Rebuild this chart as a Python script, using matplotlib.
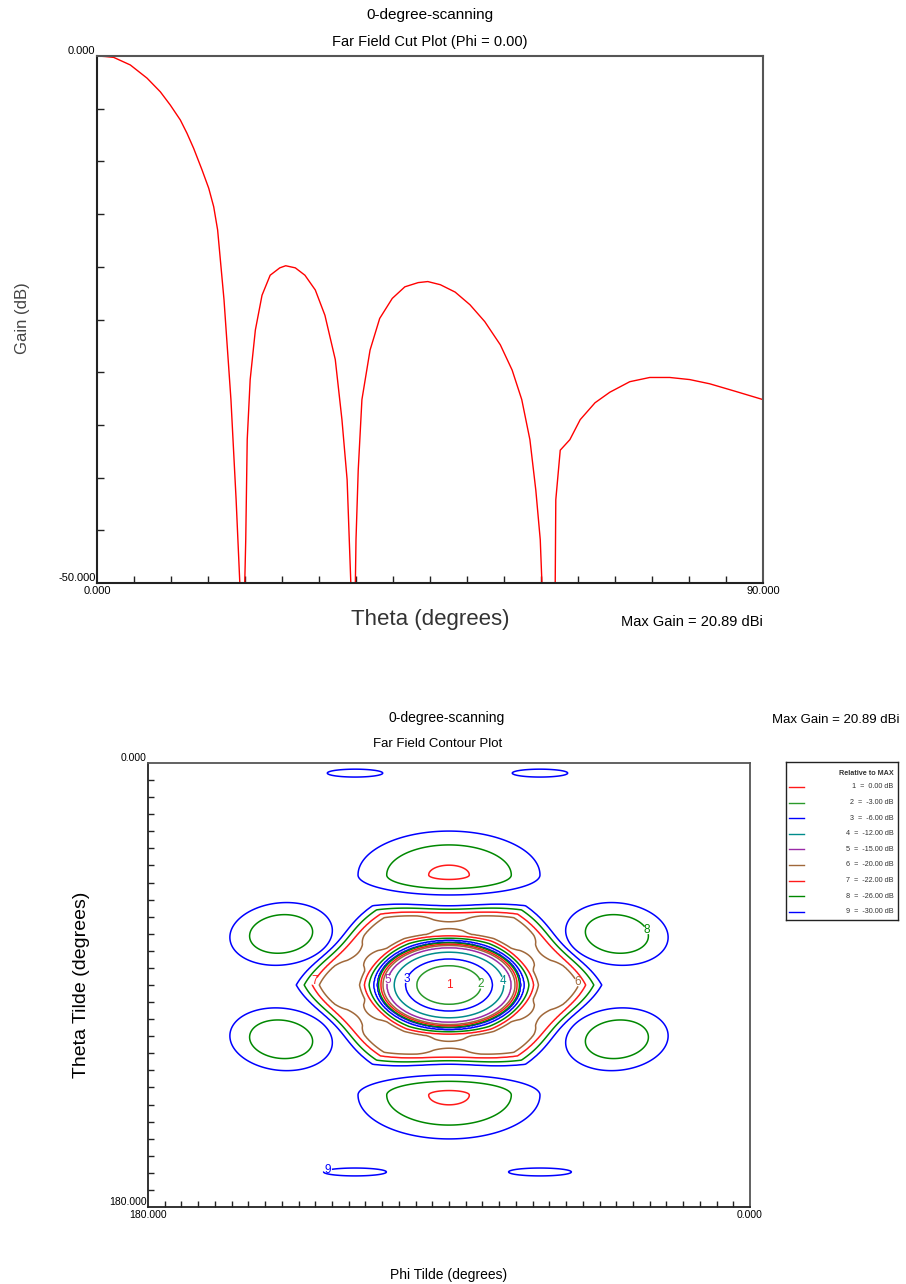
import numpy as np
import matplotlib
matplotlib.use("Agg")
import matplotlib.pyplot as plt

plt.rcParams['font.family'] = ['Liberation Sans', 'DejaVu Sans']
plt.rcParams['contour.negative_linestyle'] = 'solid'

# ---------------- data: far field cut (Phi = 0) ----------------
theta_cut = [0, 1.1, 2.25, 4.5, 6.76, 8.56, 9.9, 11.26, 12.16, 13.06, 14.19, 15.1, 15.77,
             16.3, 17.16, 18.1, 18.8, 19.3, 19.6, 19.9, 20.1, 20.3, 20.7, 21.4, 22.3, 23.4,
             24.7, 25.5, 26.8, 28.1, 29.5, 30.8, 32.2, 33.1, 33.8, 34.3, 34.6, 35.0, 35.3,
             35.8, 36.9, 38.2, 39.9, 41.6, 43.4, 44.7, 46.4, 48.4, 50.4, 52.4, 54.5, 56.1,
             57.4, 58.5, 59.3, 59.9, 60.4, 61.2, 61.9, 62.0, 62.6, 63.9, 65.3, 67.3, 69.3,
             72.0, 74.7, 77.4, 80.1, 82.8, 86.2, 90.0]
gain_cut = [0, -0.05, -0.13, -0.85, -2.1, -3.4, -4.65, -6.07, -7.33, -8.76, -10.8, -12.55,
            -14.3, -16.5, -23.1, -32.6, -42.1, -50.0, -65.0, -52.0, -45.9, -36.4, -30.7,
            -26.0, -22.7, -20.8, -20.1, -19.9, -20.1, -20.8, -22.2, -24.6, -28.8, -34.5,
            -40.2, -50.0, -65.0, -45.9, -39.3, -32.6, -27.9, -24.9, -23.0, -21.9, -21.5,
            -21.4, -21.7, -22.4, -23.6, -25.2, -27.4, -29.8, -32.6, -36.4, -41.2, -45.9,
            -55.0, -65.0, -52.0, -42.1, -37.4, -36.4, -34.5, -32.9, -31.9, -30.9, -30.5,
            -30.5, -30.7, -31.1, -31.8, -32.6]

# ---------------- data: far field contour ----------------
contour_levels = [0.0, -3.0, -6.0, -12.0, -15.0, -20.0, -22.0, -26.0, -30.0]
contour_colors = ['#ff1a1a', '#2a9a2a', '#0000ff', '#008c8c', '#9a2aa8',
                  '#a0683a', '#ff1a1a', '#008800', '#0000ff']

# main beam (centre, elliptical radius scale, radial profile)
main_phi, main_theta = 90.0, 90.0
main_ax, main_ay = 22.4, 18.2
main_rho = [0, 0.15, 0.3, 0.43, 0.58, 0.73, 0.83, 0.88, 0.91, 0.94, 0.96, 0.97, 3.0]
main_db = [0, -0.4, -1.5, -3, -6, -12, -15, -20, -22, -26, -30, -60, -80]

# first side-lobe ring (hexagonal, rounded)
ring_rho_in = 0.97
ring_rho_vertex = 2.04
ring_hex_mix = 0.6
ring_ripple = 0.6
ring_t = [0, 0.012, 0.028, 0.09, 0.15, 0.22, 0.45, 0.70, 0.80, 0.90, 1.0, 1.12, 1.3, 3.0]
ring_db = [-60, -36, -30, -26, -22, -20, -19.0, -20, -22, -26, -30, -38, -50, -60]
ripple_t = [0, 0.12, 0.3, 0.6, 0.78, 3.0]
ripple_w = [0, 0, 1, 1, 0, 0]

# outer lobes
lobe_phi = [90, 90, 140.2, 39.8, 140.2, 39.8, 118.1, 62.8, 118.1, 62.8]
lobe_theta = [45.4, 134.6, 69.3, 69.3, 112.0, 112.0, 4.1, 4.1, 165.8, 165.8]
lobe_peak = [-21.2, -21.2, -22.6, -22.6, -22.6, -22.6, -29.3, -29.3, -29.3, -29.3]
lobe_sx = [27.2, 27.2, 15.5, 15.5, 15.5, 15.5, 8.3, 8.3, 9.4, 9.4]
lobe_sy_up = [17.8, 8.1, 12.5, 12.5, 12.5, 12.5, 1.6, 1.6, 1.6, 1.6]
lobe_sy_down = [8.1, 17.8, 12.5, 12.5, 12.5, 12.5, 1.6, 1.6, 1.6, 1.6]
lobe_tilt = [0, 0, 15, -15, -15, 15, 0, 0, 0, 0]
lobe_shape = 1.6

label_pos = {2: (62.5, 88), 3: (101.6, 88), 4: (72.3, 88), 5: (107.6, 88),
             6: (51.4, 88.8), 7: (129.8, 88.8), 8: (29.6, 66.9), 9: (126.5, 163.8)}

# ---------------- build field ----------------
phi_g = np.linspace(0, 180, 721)
th_g = np.linspace(0, 180, 721)
PHI, TH = np.meshgrid(phi_g, th_g)

dxn = (main_phi - PHI) / main_ax
dyn = (TH - main_theta) / main_ay
rho = np.hypot(dxn, dyn)
main = np.interp(rho, main_rho, main_db)

psi = np.degrees(np.arctan2(dyn, dxn))
psim = np.mod(psi, 60.0)
c30 = np.cos(np.radians(30))
rho_hex = ring_rho_vertex * c30 / np.cos(np.radians(psim - 30))
rho_cos = ring_rho_vertex * ((1 + c30) / 2 + (1 - c30) / 2 * np.cos(np.radians(6 * psi)))
rho_out = ring_hex_mix * rho_hex + (1 - ring_hex_mix) * rho_cos
t = (rho - ring_rho_in) / (rho_out - ring_rho_in)
ring = (np.interp(t, ring_t, ring_db)
        + ring_ripple * np.interp(t, ripple_t, ripple_w) * np.cos(np.radians(6 * psi)))
ring = np.where(t < 0, -80.0, ring)

field = np.maximum(main, ring)
for i in range(len(lobe_phi)):
    a = lobe_phi[i] - PHI
    b = TH - lobe_theta[i]
    al = np.radians(lobe_tilt[i])
    ap = a * np.cos(al) - b * np.sin(al)
    bp = a * np.sin(al) + b * np.cos(al)
    sy = np.where(bp < 0, lobe_sy_up[i], lobe_sy_down[i])
    d = np.hypot(ap / lobe_sx[i], bp / sy)
    P = lobe_peak[i]
    L = P - (P + 30.0) * d ** lobe_shape
    field = np.maximum(field, L)
field = np.maximum(field, -60.0)

# ---------------- figure ----------------
W, H = 906, 1284
fig = plt.figure(figsize=(W / 100, H / 100), dpi=100)


def fx(px):
    return px / W


def fy(py):
    return 1 - py / H


# ----- top: cut plot -----
ax1 = fig.add_axes([fx(97), fy(583), fx(763) - fx(97), fy(56) - fy(583)])
ax1.plot(theta_cut, gain_cut, color='#ff0000', lw=1.0)
ax1.set_xlim(0, 90)
ax1.set_ylim(-50, 0)
ax1.set_xticks([0, 90])
ax1.set_xticklabels(['0.000', '90.000'], fontsize=8)
ax1.set_yticks([-50, 0])
ax1.set_yticklabels(['-50.000', '0.000'], fontsize=8)
plt.setp(ax1.get_yticklabels(), va='bottom')
ax1.set_xticks(np.arange(5, 90, 5), minor=True)
ax1.set_yticks(np.arange(-45, 0, 5), minor=True)
ax1.tick_params(which='major', length=0, pad=2)
ax1.tick_params(which='minor', direction='in', length=5, width=1, color='#222222')
ax1.tick_params(axis='y', which='major', pad=1)
for s in ['left', 'bottom']:
    ax1.spines[s].set_color('#222222')
    ax1.spines[s].set_linewidth(1.5)
for s in ['top', 'right']:
    ax1.spines[s].set_color('#555555')
    ax1.spines[s].set_linewidth(1.5)

fig.text(fx(430), fy(15), '0-degree-scanning', ha='center', va='center', fontsize=11)
fig.text(fx(430), fy(42), 'Far Field Cut Plot (Phi = 0.00)', ha='center', va='center', fontsize=10.5)
fig.text(fx(22), fy(318), 'Gain (dB)', ha='center', va='center', rotation=90,
         fontsize=12, color='#444444')
fig.text(fx(430), fy(620), 'Theta (degrees)', ha='center', va='center', fontsize=16,
         color='#333333')
fig.text(fx(763), fy(622), 'Max Gain = 20.89 dBi', ha='right', va='center', fontsize=10.5)

# ----- bottom: contour plot -----
ax2 = fig.add_axes([fx(148), fy(1207), fx(750) - fx(148), fy(763) - fy(1207)])
order = list(range(len(contour_levels)))[::-1]
for i in order:
    lev = contour_levels[i]
    if lev >= field.max():
        continue
    cs = ax2.contour(PHI, TH, field, levels=[lev], colors=[contour_colors[i]],
                     linewidths=1.1, linestyles='solid')
    num = i + 1
    if num in label_pos:
        txts = ax2.clabel(cs, levels=[lev], manual=[label_pos[num]], fmt={lev: str(num)},
                          inline=True, inline_spacing=1, fontsize=8.5,
                          colors=[contour_colors[i]])
        for tx in txts:
            tx.set_rotation(0)
ax2.text(main_phi, main_theta, '1', color=contour_colors[0], ha='center', va='center',
         fontsize=8.5)
ax2.set_xlim(180, 0)
ax2.set_ylim(180, 0)
ax2.set_xticks([180, 0])
ax2.set_xticklabels(['180.000', '0.000'], fontsize=7.5)
ax2.set_yticks([0, 180])
ax2.set_yticklabels(['0.000', '180.000'], fontsize=7.5)
plt.setp(ax2.get_yticklabels(), va='bottom')
ax2.set_xticks(np.arange(5, 180, 5), minor=True)
ax2.set_yticks(np.linspace(0, 180, 27)[1:-1], minor=True)
ax2.tick_params(which='major', length=0, pad=2)
ax2.tick_params(which='minor', direction='in', length=4, width=1, color='#222222')
ax2.tick_params(axis='y', which='major', pad=1)
for s in ['left', 'bottom']:
    ax2.spines[s].set_color('#222222')
    ax2.spines[s].set_linewidth(1.3)
for s in ['top', 'right']:
    ax2.spines[s].set_color('#555555')
    ax2.spines[s].set_linewidth(1.3)

fig.text(fx(447), fy(718), '0-degree-scanning', ha='center', va='center', fontsize=10)
fig.text(fx(438), fy(744), 'Far Field Contour Plot', ha='center', va='center', fontsize=9.5)
fig.text(fx(900), fy(720), 'Max Gain = 20.89 dBi', ha='right', va='center', fontsize=9.5)
fig.text(fx(82), fy(985), 'Theta Tilde (degrees)', ha='center', va='center', rotation=90,
         fontsize=14)
fig.text(fx(449), fy(1275), 'Phi Tilde (degrees)', ha='center', va='center', fontsize=10)

# ----- legend box -----
lax = fig.add_axes([fx(786), fy(920), fx(898) - fx(786), fy(762) - fy(920)])
lax.set_xlim(0, 1)
lax.set_ylim(0, 1)
lax.set_xticks([])
lax.set_yticks([])
for s in lax.spines.values():
    s.set_color('#222222')
    s.set_linewidth(1.0)
lax.text(0.96, 0.93, 'Relative to MAX', ha='right', va='center', fontsize=5.2,
         fontweight='bold', color='#333333')
n = len(contour_levels)
for i in range(n):
    yy = 0.842 - i * 0.0987
    lax.plot([0.03, 0.16], [yy, yy], color=contour_colors[i], lw=1.0)
    lax.text(0.96, yy, f'{i + 1}  =  {contour_levels[i]:.2f} dB', ha='right', va='center',
             fontsize=5.2, color='#333333')

fig.savefig('out.png', dpi=100)
